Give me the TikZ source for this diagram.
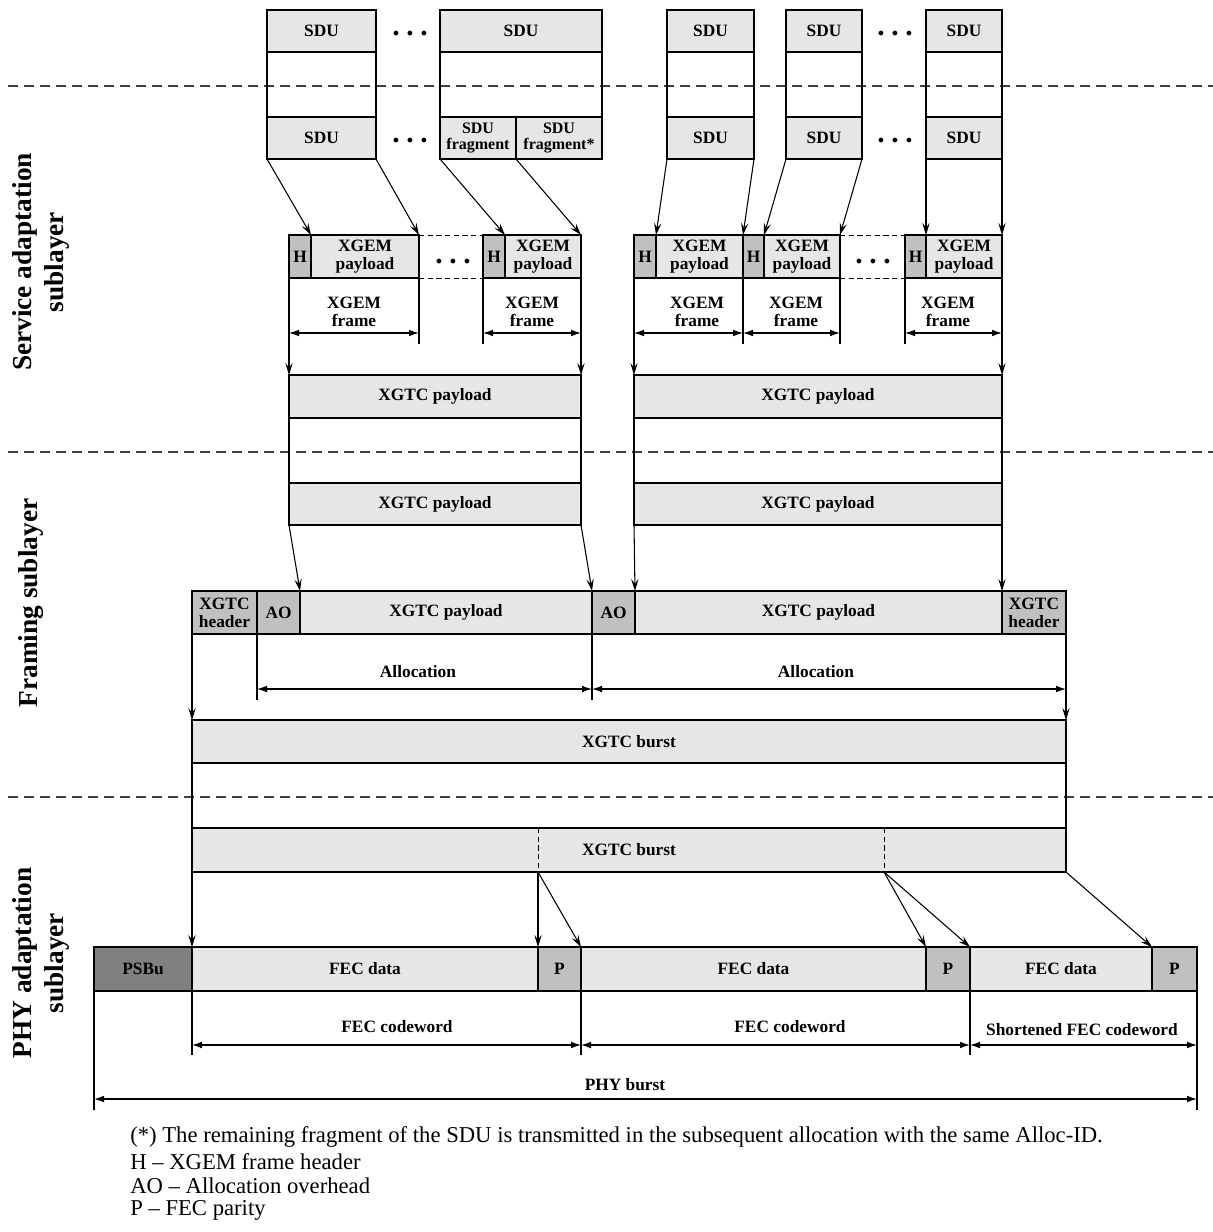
\documentclass[tikz,border=0pt]{standalone}
\usepackage{fontspec}
\setmainfont{Liberation Serif}
\usetikzlibrary{arrows.meta}
\definecolor{lg}{HTML}{E6E6E6}
\definecolor{mg}{HTML}{C0C0C0}
\definecolor{dg}{HTML}{808080}
% #1 style, #2 name, #3 x1, #4 y1, #5 x2, #6 y2, #7 text
\newcommand\mkbox[7][box]{%
 \pgfmathsetmacro\mkbw{(#5-#3)*0.75}%
 \pgfmathsetmacro\mkbh{(#6-#4)*0.75}%
 \node[#1, minimum width=\mkbw pt, minimum height=\mkbh pt] (#2) at ({(#3+#5)/2},{(#4+#6)/2}) {#7};}
\begin{document}
\begin{tikzpicture}[x=0.75pt,y=-0.75pt,
 box/.style={draw, line width=1.7pt, fill=lg, inner sep=0pt, outer sep=0pt, align=center, font=\bfseries\fontsize{13}{13.5}\selectfont},
 mbox/.style={box, fill=mg},
 dbox/.style={box, fill=dg},
 fbox/.style={box, font=\bfseries\fontsize{12}{12.5}\selectfont},
 ln/.style={line width=0.8pt},
 conn/.style={ln, -{Stealth[length=9pt,width=5.5pt,inset=3.5pt]}},
 dim/.style={ln, {Latex[length=7.5pt,width=5pt]}-{Latex[length=7.5pt,width=5pt]}},
 sep/.style={line width=1pt, black!75, dash pattern=on 7.5pt off 4.5pt},
 dsh/.style={line width=0.7pt, dash pattern=on 4pt off 2.5pt},
 lbl/.style={font=\bfseries\fontsize{13}{13.5}\selectfont, align=center, inner sep=0pt},
 dots/.style={font=\bfseries\fontsize{22}{22}\selectfont, inner sep=0pt},
 layer/.style={rotate=90, align=center, font=\bfseries\fontsize{20.5}{24}\selectfont, inner sep=0pt},
 leg/.style={anchor=west, inner sep=0pt, font=\fontsize{17}{20}\selectfont}
]
\useasboundingbox (0,0) rectangle (1213,1232);

% separators
\draw[sep] (8,86) -- (1213,86);
\draw[sep] (8,452) -- (1213,452);
\draw[sep] (8,797) -- (1213,797);

% layer labels
\node[layer] (lay1) at (41,262) {Service adaptation\\sublayer};
\node[layer] (lay2) at (31,603) {Framing sublayer};
\node[layer] (lay3) at (41,963) {PHY adaptation\\sublayer};

% top SDU row
\mkbox{t1}{267}{10}{376}{52}{SDU}
\mkbox{t2}{440}{10}{602}{52}{SDU}
\mkbox{t3}{667}{10}{754}{52}{SDU}
\mkbox{t4}{786}{10}{862}{52}{SDU}
\mkbox{t5}{926}{10}{1002}{52}{SDU}
\node[dots] (td1) at (410,34) {.\hspace{5pt}.\hspace{5pt}.};
\node[dots] (td2) at (895,34) {.\hspace{5pt}.\hspace{5pt}.};

% second SDU row
\mkbox{s1}{267}{117}{376}{159}{SDU}
\mkbox[fbox]{s2a}{440}{117}{516}{159}{SDU\\fragment}
\mkbox[fbox]{s2b}{516}{117}{602}{159}{SDU\\fragment*}
\mkbox{s3}{667}{117}{754}{159}{SDU}
\mkbox{s4}{786}{117}{862}{159}{SDU}
\mkbox{s5}{926}{117}{1002}{159}{SDU}
\node[dots] (sd1) at (410,141) {.\hspace{5pt}.\hspace{5pt}.};
\node[dots] (sd2) at (895,141) {.\hspace{5pt}.\hspace{5pt}.};

\draw[ln] (t1.south west) -- (s1.north west);
\draw[ln] (t1.south east) -- (s1.north east);
\draw[ln] (t2.south west) -- (s2a.north west);
\draw[ln] (t2.south east) -- (s2b.north east);
\draw[ln] (t3.south west) -- (s3.north west);
\draw[ln] (t3.south east) -- (s3.north east);
\draw[ln] (t4.south west) -- (s4.north west);
\draw[ln] (t4.south east) -- (s4.north east);
\draw[ln] (t5.south west) -- (s5.north west);
\draw[ln] (t5.south east) -- (s5.north east);

% XGEM row
\mkbox[mbox]{h1}{289}{235}{311}{278}{H}
\mkbox{p1}{311}{235}{419}{278}{XGEM\\payload}
\mkbox[mbox]{h2}{483}{235}{505}{278}{H}
\mkbox{p2}{505}{235}{581}{278}{XGEM\\payload}
\mkbox[mbox]{h3}{634}{235}{656}{278}{H}
\mkbox{p3}{656}{235}{743}{278}{XGEM\\payload}
\mkbox[mbox]{h4}{743}{235}{764}{278}{H}
\mkbox{p4}{764}{235}{840}{278}{XGEM\\payload}
\mkbox[mbox]{h5}{905}{235}{926}{278}{H}
\mkbox{p5}{926}{235}{1002}{278}{XGEM\\payload}
\node[dots] (xd1) at (453,262) {.\hspace{5pt}.\hspace{5pt}.};
\node[dots] (xd2) at (873,262) {.\hspace{5pt}.\hspace{5pt}.};
\draw[dsh] (p1.north east) -- (h2.north west);
\draw[dsh] (p1.south east) -- (h2.south west);
\draw[dsh] (p4.north east) -- (h5.north west);
\draw[dsh] (p4.south east) -- (h5.south west);

% SDU -> XGEM
\draw[conn] (s1.south west) -- (p1.north west);
\draw[conn] (s1.south east) -- (p1.north east);
\draw[conn] (s2a.south west) -- (p2.north west);
\draw[conn] (s2a.south east) -- (p2.north east);
\draw[conn] (s3.south west) -- (p3.north west);
\draw[conn] (s3.south east) -- (p3.north east);
\draw[conn] (s4.south west) -- (p4.north west);
\draw[conn] (s4.south east) -- (p4.north east);
\draw[conn] (s5.south west) -- (p5.north west);
\draw[conn] (s5.south east) -- (p5.north east);

% XGTC payload boxes
\mkbox{xp1}{289}{375}{581}{418}{XGTC payload}
\mkbox{xp2}{634}{375}{1002}{418}{XGTC payload}
\mkbox{fp1}{289}{483}{581}{525}{XGTC payload}
\mkbox{fp2}{634}{483}{1002}{525}{XGTC payload}

% XGEM frame dimensions
\coordinate (fy) at (0,344);
\coordinate (fa) at (0,333);
\draw[conn] (h1.south west) -- (xp1.north west);
\draw[ln] (p1.south east) -- (p1.south east |- fy);
\draw[ln] (h2.south west) -- (h2.south west |- fy);
\draw[conn] (p2.south east) -- (xp1.north east);
\draw[conn] (h3.south west) -- (xp2.north west);
\draw[ln] (p3.south east) -- (p3.south east |- fy);
\draw[ln] (p4.south east) -- (p4.south east |- fy);
\draw[ln] (h5.south west) -- (h5.south west |- fy);
\draw[conn] (p5.south east) -- (xp2.north east);
\draw[dim] (h1.south west |- fa) -- (p1.south east |- fa);
\draw[dim] (h2.south west |- fa) -- (p2.south east |- fa);
\draw[dim] (h3.south west |- fa) -- (p3.south east |- fa);
\draw[dim] (h4.south west |- fa) -- (p4.south east |- fa);
\draw[dim] (h5.south west |- fa) -- (p5.south east |- fa);
\node[lbl] (xf1) at (354,312) {XGEM\\frame};
\node[lbl] (xf2) at (532,312) {XGEM\\frame};
\node[lbl] (xf3) at (697,312) {XGEM\\frame};
\node[lbl] (xf4) at (796,312) {XGEM\\frame};
\node[lbl] (xf5) at (948,312) {XGEM\\frame};

\draw[ln] (xp1.south west) -- (fp1.north west);
\draw[ln] (xp1.south east) -- (fp1.north east);
\draw[ln] (xp2.south west) -- (fp2.north west);
\draw[ln] (xp2.south east) -- (fp2.north east);

% framing row
\mkbox[mbox]{hd1}{192}{591}{257}{634}{XGTC\\header}
\mkbox[mbox]{ao1}{257}{591}{300}{634}{AO}
\mkbox{fpl1}{300}{591}{592}{634}{XGTC payload}
\mkbox[mbox]{ao2}{592}{591}{635}{634}{AO}
\mkbox{fpl2}{635}{591}{1002}{634}{XGTC payload}
\mkbox[mbox]{hd2}{1002}{591}{1066}{634}{XGTC\\header}

\draw[conn] (fp1.south west) -- (fpl1.north west);
\draw[conn] (fp1.south east) -- (fpl1.north east);
\draw[conn] (fp2.south west) -- (fpl2.north west);
\draw[conn] (fp2.south east) -- (fpl2.north east);

% XGTC burst
\mkbox{xb1}{192}{720}{1066}{763}{XGTC burst}
\mkbox{xb2}{192}{828}{1066}{872}{XGTC burst}

\coordinate (ay) at (0,700);
\coordinate (aa) at (0,689);
\draw[ln] (ao1.south west) -- (ao1.south west |- ay);
\draw[ln] (ao2.south west) -- (ao2.south west |- ay);
\draw[conn] (hd1.south west) -- (xb1.north west);
\draw[conn] (hd2.south east) -- (xb1.north east);
\draw[dim] (ao1.south west |- aa) -- (ao2.south west |- aa);
\draw[dim] (ao2.south west |- aa) -- (hd2.south east |- aa);
\node[lbl] (al1) at (418,672) {Allocation};
\node[lbl] (al2) at (816,672) {Allocation};

\draw[ln] (xb1.south west) -- (xb2.north west);
\draw[ln] (xb1.south east) -- (xb2.north east);

\coordinate (c1t) at (538,828);
\coordinate (c1) at (538,872);
\coordinate (c2t) at (884,828);
\coordinate (c2) at (884,872);
\draw[dsh] (c1t) -- (c1);
\draw[dsh] (c2t) -- (c2);

% PHY row
\mkbox[dbox]{psbu}{94}{947}{192}{991}{PSBu}
\mkbox{fd1}{192}{947}{538}{991}{FEC data}
\mkbox[mbox]{pp1}{538}{947}{581}{991}{P}
\mkbox{fd2}{581}{947}{926}{991}{FEC data}
\mkbox[mbox]{pp2}{926}{947}{970}{991}{P}
\mkbox{fd3}{970}{947}{1152}{991}{FEC data}
\mkbox[mbox]{pp3}{1152}{947}{1197}{991}{P}

\draw[conn] (xb2.south west) -- (fd1.north west);
\draw[conn] (c1) -- (pp1.north west);
\draw[conn] (c1) -- (pp1.north east);
\draw[conn] (c2) -- (pp2.north west);
\draw[conn] (c2) -- (pp2.north east);
\draw[conn] (xb2.south east) -- (pp3.north west);

\coordinate (cy) at (0,1055);
\coordinate (ca) at (0,1045);
\coordinate (py) at (0,1110);
\coordinate (pa) at (0,1099);
\draw[ln] (fd1.south west) -- (fd1.south west |- cy);
\draw[ln] (pp1.south east) -- (pp1.south east |- cy);
\draw[ln] (pp2.south east) -- (pp2.south east |- cy);
\draw[ln] (pp3.south east) -- (pp3.south east |- py);
\draw[ln] (psbu.south west) -- (psbu.south west |- py);
\draw[dim] (fd1.south west |- ca) -- (pp1.south east |- ca);
\draw[dim] (pp1.south east |- ca) -- (pp2.south east |- ca);
\draw[dim] (pp2.south east |- ca) -- (pp3.south east |- ca);
\draw[dim] (psbu.south west |- pa) -- (pp3.south east |- pa);
\node[lbl] (cw1) at (397,1027) {FEC codeword};
\node[lbl] (cw2) at (790,1027) {FEC codeword};
\node[lbl] (cw3) at (1082,1030) {Shortened FEC codeword};
\node[lbl] (phyb) at (625,1085) {PHY burst};

% legend
\node[leg] (lg1) at (130,1137) {(*) The remaining fragment of the SDU is transmitted in the subsequent allocation with the same Alloc-ID.};
\node[leg] (lg2) at (130,1162) {H – XGEM frame header};
\node[leg] (lg3) at (130,1186) {AO – Allocation overhead};
\node[leg] (lg4) at (130,1210) {P – FEC parity};
\end{tikzpicture}
\end{document}
